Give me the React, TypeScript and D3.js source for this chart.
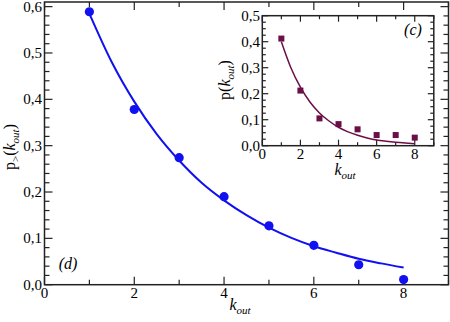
import React from 'react';
import * as d3 from 'd3';

// main panel (d): cumulative distribution p>(k_out)
const kValues = [1, 2, 3, 4, 5, 6, 7, 8];
const pCumulative = [0.589, 0.378, 0.274, 0.19, 0.127, 0.085, 0.043, 0.011];
const fitK = [1, 1.5, 2, 2.5, 3, 3.5, 4, 4.5, 5, 5.5, 6, 6.5, 7, 7.5, 8];
const fitCumulative = [0.585, 0.48, 0.395, 0.325, 0.268, 0.22, 0.182, 0.15, 0.123, 0.101, 0.083, 0.069, 0.056, 0.046, 0.037];

// inset (c): distribution p(k_out)
const pDist = [0.412, 0.212, 0.105, 0.083, 0.063, 0.041, 0.041, 0.031];
const fitDist = [0.4, 0.3, 0.225, 0.168, 0.126, 0.095, 0.071, 0.053, 0.04, 0.03, 0.022, 0.017, 0.013, 0.01, 0.0075];

const mainXTicks = [0, 2, 4, 6, 8];
const mainYTicks = [0, 0.1, 0.2, 0.3, 0.4, 0.5, 0.6];
const insetXTicks = [0, 2, 4, 6, 8];
const insetYTicks = [0, 0.1, 0.2, 0.3, 0.4, 0.5];

const fmt = (v: number) => v.toFixed(1).replace('.', ',');

const BLUE = '#1010f0';
const MAROON = '#6b0f47';
const FONT = "'Liberation Serif', 'Times New Roman', Times, serif";

function Frame({ x, y, xMinor, yMinor, major, minor }: any) {
  const [x0, x1] = x.range();
  const [y0, y1] = y.range();
  const xt = d3.range(0, x.domain()[1] + 1e-9, xMinor);
  const yt = d3.range(0, y.domain()[1] + 1e-9, yMinor);
  const isMajor = (v: number, step: number) => Math.abs(v / step - Math.round(v / step)) < 1e-6;
  return (
    <g stroke="#222" strokeWidth={1.2}>
      {xt.map((v: number, i: number) => {
        const len = isMajor(v, xMinor * 2) ? major : minor;
        const px = x(v);
        return (
          <g key={'x' + i}>
            <line x1={px} x2={px} y1={y0} y2={y0 - len} />
            <line x1={px} x2={px} y1={y1} y2={y1 + len} />
          </g>
        );
      })}
      {yt.map((v: number, i: number) => {
        const len = isMajor(v, 0.1) ? major : minor;
        const py = y(v);
        return (
          <g key={'y' + i}>
            <line x1={x0} x2={x0 + len} y1={py} y2={py} />
            <line x1={x1} x2={x1 - len} y1={py} y2={py} />
          </g>
        );
      })}
      <rect x={x0} y={y1} width={x1 - x0} height={y0 - y1} fill="none" strokeWidth={1.5} />
    </g>
  );
}

export default function App() {
  const x = d3.scaleLinear().domain([0, 9]).range([44.5, 448.5]);
  const y = d3.scaleLinear().domain([0, 0.61]).range([284.7, 2]);
  const ix = d3.scaleLinear().domain([0, 9]).range([262.3, 433.8]);
  const iy = d3.scaleLinear().domain([0, 0.5]).range([145.7, 15.7]);

  const mainLine = d3.line<number>()
    .x((_, i) => x(fitK[i]))
    .y((d) => y(d))
    .curve(d3.curveMonotoneX);
  const insetLine = d3.line<number>()
    .x((_, i) => ix(fitK[i]))
    .y((d) => iy(d))
    .curve(d3.curveMonotoneX);

  return (
    <>
      <style>{'body{margin:0}'}</style>
      <svg width={450} height={322} style={{ display: 'block', fontFamily: FONT }}>
        <rect width={450} height={322} fill="#fff" />
        <Frame x={x} y={y} xMinor={1} yMinor={0.02} major={8} minor={5} />

        {mainYTicks.map((v) => (
          <text key={v} x={42} y={y(v)} dy="0.33em" textAnchor="end" fontSize={15}>{fmt(v)}</text>
        ))}
        {mainXTicks.map((v) => (
          <text key={v} x={x(v)} y={298} textAnchor="middle" fontSize={15}>{v}</text>
        ))}

        <path d={mainLine(fitCumulative) || ''} fill="none" stroke={BLUE} strokeWidth={2} />
        {pCumulative.map((v, i) => (
          <circle key={i} cx={x(kValues[i])} cy={y(v)} r={4.6} fill={BLUE} />
        ))}

        <text x={68} y={269} textAnchor="middle" fontSize={16} fontStyle="italic">(d)</text>

        <text x={240} y={310} textAnchor="middle" fontSize={16}>
          <tspan fontStyle="italic">k</tspan>
          <tspan fontStyle="italic" fontSize={11} dy={4}>out</tspan>
        </text>
        <text transform="translate(15,147) rotate(-90)" textAnchor="middle" fontSize={16}>
          <tspan>p</tspan>
          <tspan fontSize={11} dy={4}>&gt;</tspan>
          <tspan dy={-4}>(</tspan>
          <tspan fontStyle="italic">k</tspan>
          <tspan fontStyle="italic" fontSize={11} dy={4}>out</tspan>
          <tspan dy={-4}>)</tspan>
        </text>

        {/* inset */}
        <rect x={ix.range()[0]} y={iy.range()[1]} width={ix.range()[1] - ix.range()[0]}
          height={iy.range()[0] - iy.range()[1]} fill="#fff" />
        <Frame x={ix} y={iy} xMinor={1} yMinor={0.025} major={6} minor={3.5} />
        {insetYTicks.map((v) => (
          <text key={v} x={260} y={iy(v)} dy="0.33em" textAnchor="end" fontSize={15}>{fmt(v)}</text>
        ))}
        {insetXTicks.map((v) => (
          <text key={v} x={ix(v)} y={159} textAnchor="middle" fontSize={15}>{v}</text>
        ))}
        <path d={insetLine(fitDist) || ''} fill="none" stroke={MAROON} strokeWidth={1.5} />
        {pDist.map((v, i) => (
          <rect key={i} x={ix(kValues[i]) - 3} y={iy(v) - 3} width={6} height={6} fill={MAROON} />
        ))}
        <text x={413} y={35} textAnchor="middle" fontSize={16} fontStyle="italic">(c)</text>
        <text x={345} y={175} textAnchor="middle" fontSize={16}>
          <tspan fontStyle="italic">k</tspan>
          <tspan fontStyle="italic" fontSize={11} dy={4}>out</tspan>
        </text>
        <text transform="translate(230,80) rotate(-90)" textAnchor="middle" fontSize={16}>
          <tspan>p(</tspan>
          <tspan fontStyle="italic">k</tspan>
          <tspan fontStyle="italic" fontSize={11} dy={4}>out</tspan>
          <tspan dy={-4}>)</tspan>
        </text>
      </svg>
    </>
  );
}
